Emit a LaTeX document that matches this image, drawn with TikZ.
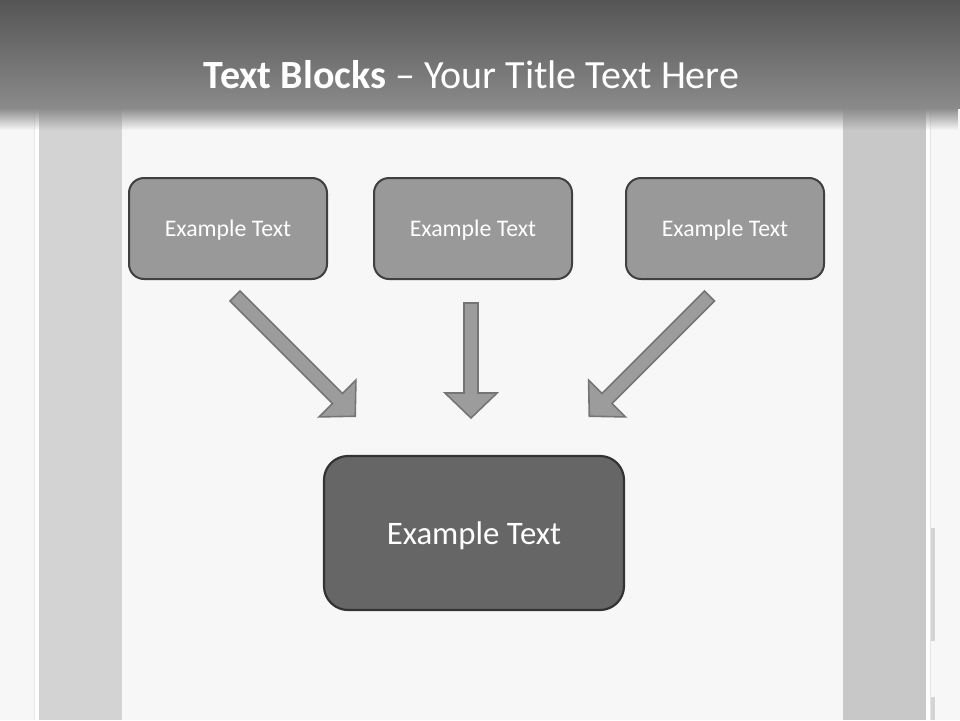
\documentclass[tikz,border=0pt]{standalone}
\usepackage{fontspec}
\setmainfont{Carlito}
\usetikzlibrary{fadings}
\tikzfading[name=fadedown, top color=transparent!0, bottom color=transparent!100]
\definecolor{bg}{HTML}{F7F7F7}
\definecolor{stripL}{HTML}{D3D3D3}
\definecolor{stripR}{HTML}{C8C8C8}
\definecolor{bartop}{HTML}{555555}
\definecolor{barbot}{HTML}{8A8A8A}
\definecolor{boxfill}{HTML}{999999}
\definecolor{boxline}{HTML}{404040}
\definecolor{bigfill}{HTML}{666666}
\definecolor{bigline}{HTML}{333333}
\definecolor{arrowfill}{HTML}{9C9C9C}
\definecolor{arrowline}{HTML}{757575}
\tikzset{
  smallbox/.style={draw=boxline, fill=boxfill, line width=2pt, rounded corners=15pt,
    minimum width=198pt, minimum height=101pt, text=white, text depth=0pt,
    font=\fontsize{23.8}{28}\selectfont},
  bigbox/.style={draw=bigline, fill=bigfill, line width=2.2pt, rounded corners=24pt,
    minimum width=300pt, minimum height=154pt, text=white, text depth=0pt,
    font=\fontsize{32.8}{38}\selectfont},
  blockarrow/.style={fill=arrowfill, draw=arrowline, line width=1.6pt, line join=miter},
}
\newcommand\blockarrowpath[1]{(0,-7) -- (#1-25,-7) -- (#1-25,-26) -- (#1,0) -- (#1-25,26) -- (#1-25,7) -- (0,7) -- cycle}
\begin{document}
\begin{tikzpicture}[x=1pt,y=-1pt]
\useasboundingbox (0,0) rectangle (960,720);
% background
\fill[bg] (0,0) rectangle (960,720);
% side strips
\fill[stripL] (39,0) rectangle (122,720);
\fill[white] (35,0) rectangle (39,720);
\fill[black!9] (33.5,0) rectangle (35,720);
\fill[stripR] (843,0) rectangle (926,720);
\fill[white] (926,0) rectangle (930,720);
\fill[black!10] (930,0) rectangle (931,720);
\fill[black!17] (931,528) rectangle (935,641);
\fill[black!17] (931,697) rectangle (935,720);
% title bar
\shade[top color=bartop, bottom color=barbot] (0,0) rectangle (960,108);
\fill[barbot, path fading=fadedown] (0,108) rectangle (960,130);
\node[text=white, anchor=base, font=\fontsize{40}{46}\selectfont] (title) at (471.5,88)
  {\textbf{Text Blocks} – Your Title Text Here};
% boxes
\node[smallbox] (b1) at (228,228.5) {Example Text};
\node[smallbox] (b2) at (473,228.5) {Example Text};
\node[smallbox] (b3) at (725,228.5) {Example Text};
\node[bigbox] (b4) at (474,533) {Example Text};
% arrows
\coordinate (t1) at (235,296);
\coordinate (t2) at (471,303);
\coordinate (t3) at (709.5,296);
\begin{scope}[shift={(t1)}, rotate=-45]
  \draw[blockarrow] \blockarrowpath{170};
\end{scope}
\begin{scope}[shift={(t2)}, rotate=-90]
  \draw[blockarrow] \blockarrowpath{115};
\end{scope}
\begin{scope}[shift={(t3)}, rotate=-135]
  \draw[blockarrow] \blockarrowpath{170};
\end{scope}
\end{tikzpicture}
\end{document}
